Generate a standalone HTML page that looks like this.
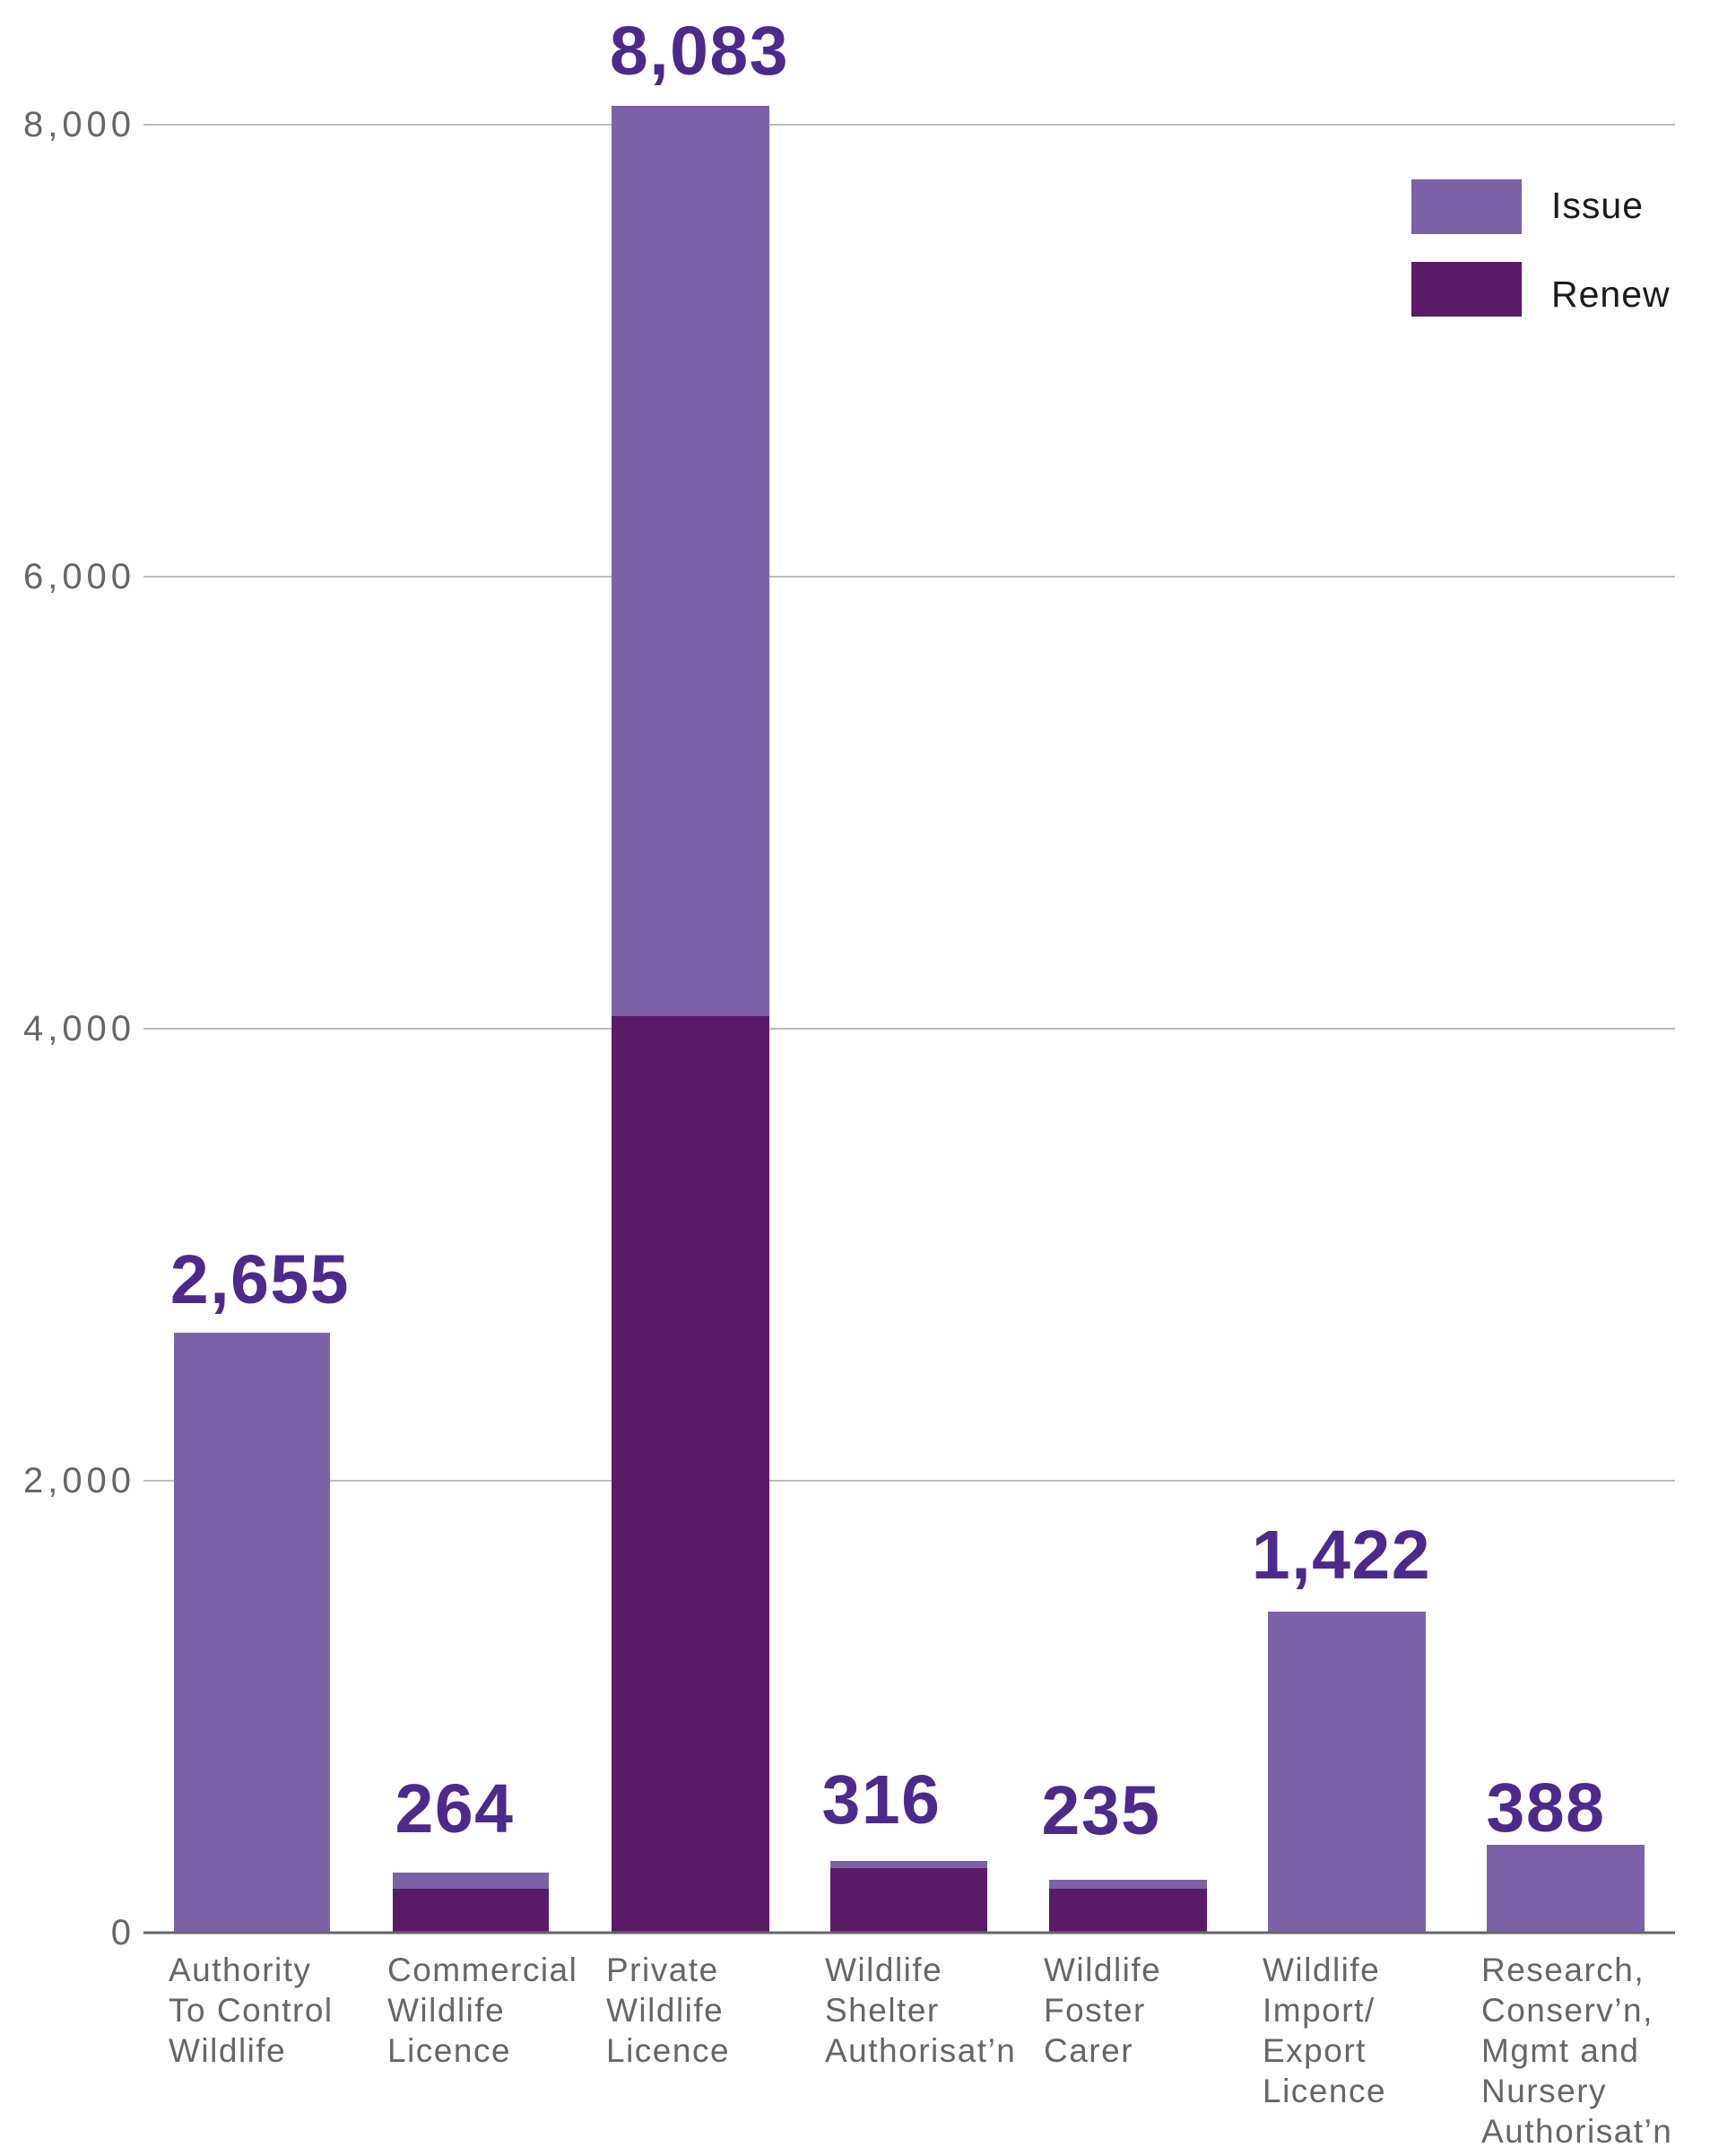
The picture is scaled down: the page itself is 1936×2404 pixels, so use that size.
<!DOCTYPE html>
<html><head><meta charset="utf-8"><style>
html,body{margin:0;padding:0;background:#fff;}
svg{display:block;}
</style></head><body>
<svg width="1936" height="2404" viewBox="0 0 1936 2404" xmlns="http://www.w3.org/2000/svg" font-family="Liberation Sans, sans-serif">
<g stroke="#bdbdbd" stroke-width="2">
<line x1="160" y1="139" x2="1868" y2="139"/>
<line x1="160" y1="643" x2="1868" y2="643"/>
<line x1="160" y1="1147" x2="1868" y2="1147"/>
<line x1="160" y1="1651" x2="1868" y2="1651"/>
</g>
<g font-size="40" fill="#666" text-anchor="end">
<text x="146" y="152" textLength="120">8,000</text>
<text x="146" y="656" textLength="120">6,000</text>
<text x="146" y="1160" textLength="120">4,000</text>
<text x="146" y="1664" textLength="120">2,000</text>
<text x="146" y="2168">0</text>
</g>
<g fill="#7b62a8">
<rect x="194" y="1486" width="174" height="669"/>
<rect x="438" y="2088" width="174" height="67"/>
<rect x="682" y="118" width="176" height="2037"/>
<rect x="926" y="2075" width="175" height="80"/>
<rect x="1170" y="2096" width="176" height="59"/>
<rect x="1414" y="1797" width="176" height="358"/>
<rect x="1658" y="2057" width="176" height="98"/>
</g>
<g fill="#5a1a68">
<rect x="438" y="2106" width="174" height="49"/>
<rect x="682" y="1133" width="176" height="1022"/>
<rect x="926" y="2083" width="175" height="72"/>
<rect x="1170" y="2106" width="176" height="49"/>
</g>
<line x1="160" y1="2155" x2="1868" y2="2155" stroke="#666" stroke-width="3"/>
<g font-size="77" font-weight="bold" fill="#4b2a8c" text-anchor="middle" letter-spacing="1.5">
<text x="290" y="1453">2,655</text>
<text x="507" y="2043">264</text>
<text x="780" y="83">8,083</text>
<text x="983" y="2033">316</text>
<text x="1228" y="2045">235</text>
<text x="1496" y="1760">1,422</text>
<text x="1724" y="2042">388</text>
</g>
<g font-size="37" fill="#666" letter-spacing="1.5">
<text x="188" y="2209">Authority</text><text x="188" y="2254">To Control</text><text x="188" y="2299">Wildlife</text>
<text x="432" y="2209">Commercial</text><text x="432" y="2254">Wildlife</text><text x="432" y="2299">Licence</text>
<text x="676" y="2209">Private</text><text x="676" y="2254">Wildlife</text><text x="676" y="2299">Licence</text>
<text x="920" y="2209">Wildlife</text><text x="920" y="2254">Shelter</text><text x="920" y="2299">Authorisat’n</text>
<text x="1164" y="2209">Wildlife</text><text x="1164" y="2254">Foster</text><text x="1164" y="2299">Carer</text>
<text x="1408" y="2209">Wildlife</text><text x="1408" y="2254">Import/</text><text x="1408" y="2299">Export</text><text x="1408" y="2344">Licence</text>
<text x="1652" y="2209">Research,</text><text x="1652" y="2254">Conserv’n,</text><text x="1652" y="2299">Mgmt and</text><text x="1652" y="2344">Nursery</text><text x="1652" y="2389">Authorisat’n</text>
</g>
<rect x="1574" y="200" width="123" height="61" fill="#7b62a8"/>
<rect x="1574" y="292" width="123" height="61" fill="#5a1a68"/>
<g font-size="41" fill="#1a1a1a" letter-spacing="1">
<text x="1730" y="243">Issue</text>
<text x="1730" y="342">Renew</text>
</g>
</svg>
</body></html>
